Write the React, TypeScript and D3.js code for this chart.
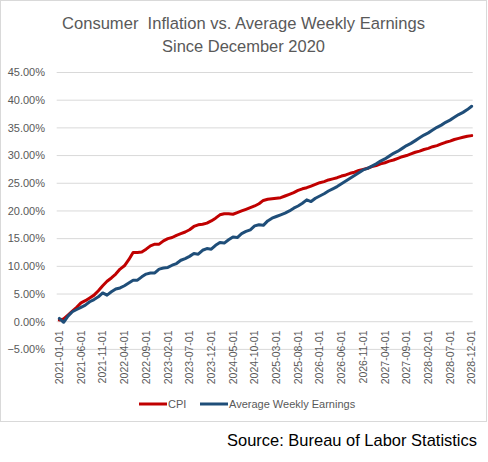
import * as d3 from "d3";

// monthly observations, 2021-01 .. 2028-12 (percent change since Dec 2020)
const cpi = [
  0.3, 0.5, 1.2, 1.9, 2.6, 3.4, 3.8, 4.3, 4.8, 5.6, 6.5, 7.3,
  7.9, 8.6, 9.5, 10.1, 11.2, 12.5, 12.5, 12.6, 13.1, 13.7, 14.0, 14.0,
  14.6, 15.0, 15.2, 15.6, 15.9, 16.2, 16.6, 17.2, 17.5, 17.6, 17.8, 18.2,
  18.7, 19.3, 19.5, 19.5, 19.4, 19.7, 20.0, 20.3, 20.6, 20.9, 21.3, 21.9,
  22.1, 22.2, 22.3, 22.4, 22.7, 23.0, 23.3, 23.7, 24.0, 24.2, 24.5, 24.8,
  25.1, 25.3, 25.6, 25.8, 26.0, 26.3, 26.5, 26.8, 27.0, 27.3, 27.5, 27.7,
  28.0, 28.2, 28.5, 28.7, 29.0, 29.2, 29.5, 29.8, 30.0, 30.3, 30.6, 30.8,
  31.1, 31.3, 31.6, 31.8, 32.1, 32.4, 32.6, 32.9, 33.1, 33.3, 33.5, 33.6,
];

const earnings = [
  0.6, -0.1, 1.0, 1.8, 2.2, 2.6, 3.0, 3.6, 4.0, 4.5, 5.2, 4.8,
  5.4, 5.9, 6.1, 6.5, 7.0, 7.5, 7.5, 8.1, 8.6, 8.8, 8.8, 9.5,
  9.7, 9.8, 10.2, 10.5, 11.1, 11.4, 11.8, 12.3, 12.2, 12.9, 13.2, 13.1,
  13.8, 14.3, 14.2, 14.8, 15.3, 15.2, 15.9, 16.3, 16.6, 17.3, 17.5, 17.4,
  18.2, 18.7, 19.0, 19.3, 19.6, 20.0, 20.5, 20.9, 21.4, 22.0, 21.7, 22.3,
  22.7, 23.1, 23.6, 24.0, 24.4, 24.9, 25.4, 25.9, 26.4, 26.9, 27.4, 27.7,
  28.1, 28.5, 29.0, 29.4, 29.9, 30.4, 30.8, 31.3, 31.8, 32.2, 32.7, 33.2,
  33.7, 34.1, 34.6, 35.1, 35.5, 36.0, 36.4, 36.9, 37.4, 37.8, 38.3, 38.9,
];

const xTickLabels = [
  "2021-01-01", "2021-06-01", "2021-11-01", "2022-04-01", "2022-09-01",
  "2023-02-01", "2023-07-01", "2023-12-01", "2024-05-01", "2024-10-01",
  "2025-03-01", "2025-08-01", "2026-01-01", "2026-06-01", "2026-11-01",
  "2027-04-01", "2027-09-01", "2028-02-01", "2028-07-01", "2028-12-01",
];

const yTicks = [-5, 0, 5, 10, 15, 20, 25, 30, 35, 40, 45];

const months = d3
  .timeMonths(new Date(2021, 0, 1), new Date(2029, 0, 1))
  .map(d3.timeFormat("%Y-%m-%d"));

const series = [
  { name: "CPI", values: cpi, color: "#C00000" },
  { name: "Average Weekly Earnings", values: earnings, color: "#1F4E79" },
];

const W = 488;
const H = 462;
const FONT = "'Liberation Sans', Arial, sans-serif";
const GREY = "#595959";

export default function App() {
  const x = d3.scalePoint<string>().domain(months).range([59.3, 471.7]);
  const y = d3.scaleLinear().domain([-5, 45]).range([349.4, 72.5]);
  const gridX0 = 56.7;
  const gridX1 = 472.7;

  const line = d3
    .line<number>()
    .x((_d, i) => x(months[i]) ?? 0)
    .y((d) => y(d));

  return (
    <svg
      width={W}
      height={H}
      style={{ position: "absolute", left: 0, top: 0, fontFamily: FONT }}
    >
      <rect x={0} y={0} width={W} height={H} fill="#fff" />
      <rect
        x={0.5}
        y={0.5}
        width={486}
        height={421}
        fill="#fff"
        stroke="#d9d9d9"
      />

      {/* title */}
      <text
        x={243.5}
        y={29}
        textAnchor="middle"
        fontSize={16.3}
        fill={GREY}
        textLength={363}
        lengthAdjust="spacingAndGlyphs"
        style={{ whiteSpace: "pre" }}
      >
        {"Consumer  Inflation vs. Average Weekly Earnings"}
      </text>
      <text
        x={243.5}
        y={51.5}
        textAnchor="middle"
        fontSize={16.3}
        fill={GREY}
        textLength={163}
        lengthAdjust="spacingAndGlyphs"
      >
        Since December 2020
      </text>

      {/* gridlines + y labels */}
      {yTicks.map((t) => (
        <g key={t}>
          <line
            x1={gridX0}
            x2={gridX1}
            y1={y(t)}
            y2={y(t)}
            stroke="#d9d9d9"
            strokeWidth={1}
          />
          <text
            x={45}
            y={y(t)}
            dy="0.35em"
            textAnchor="end"
            fontSize={11}
            fill={GREY}
          >
            {d3.format(".2f")(t) + "%"}
          </text>
        </g>
      ))}

      {/* x labels */}
      {xTickLabels.map((lab) => (
        <text
          key={lab}
          transform={`translate(${x(lab)},330.5) rotate(-90)`}
          dy="0.35em"
          textAnchor="end"
          fontSize={10.5}
          fill={GREY}
        >
          {lab}
        </text>
      ))}

      {/* series */}
      {series.map((s) => (
        <path
          key={s.name}
          d={line(s.values) ?? ""}
          fill="none"
          stroke={s.color}
          strokeWidth={3}
          strokeLinejoin="round"
          strokeLinecap="round"
        />
      ))}

      {/* legend */}
      <g fontSize={11} fill={GREY}>
        <line x1={139} x2={167} y1={404} y2={404} stroke={series[0].color} strokeWidth={3} />
        <text x={168} y={404} dy="0.35em">{series[0].name}</text>
        <line x1={200} x2={228} y1={404} y2={404} stroke={series[1].color} strokeWidth={3} />
        <text x={229} y={404} dy="0.35em">{series[1].name}</text>
      </g>

      {/* source */}
      <text
        x={477}
        y={446}
        textAnchor="end"
        fontSize={17}
        fill="#000"
        textLength={250}
        lengthAdjust="spacingAndGlyphs"
      >
        Source: Bureau of Labor Statistics
      </text>
    </svg>
  );
}
